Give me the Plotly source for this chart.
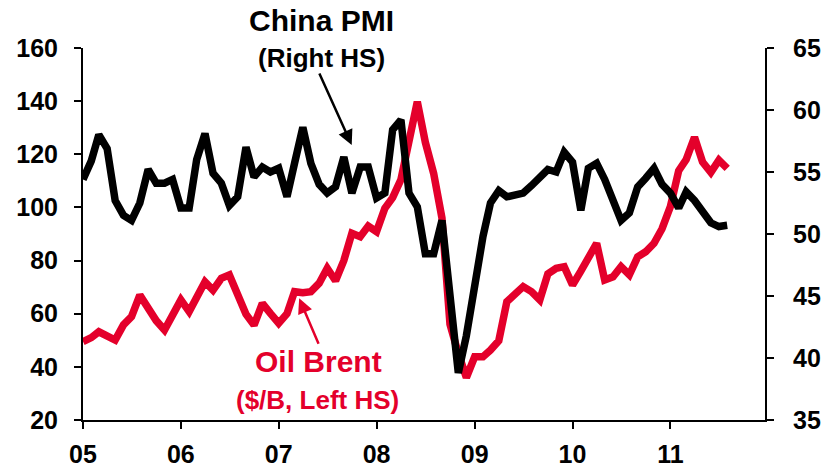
import pandas as pd
import plotly.graph_objects as go

# Monthly series, Jan 2005 - Aug 2011
months = pd.date_range("2005-01-01", periods=80, freq="MS")

china_pmi = [
    54.4, 55.9, 58.0, 56.9, 52.7, 51.5, 51.1, 52.5, 55.2, 54.1, 54.1, 54.4,   # 2005
    52.1, 52.1, 56.0, 58.1, 54.9, 54.1, 52.3, 53.0, 57.0, 54.6, 55.4, 55.0,   # 2006
    55.3, 53.0, 55.7, 58.6, 55.7, 54.0, 53.3, 53.8, 56.2, 53.3, 55.4, 55.4,   # 2007
    52.9, 53.3, 58.4, 59.2, 53.3, 52.2, 48.4, 48.4, 51.1, 44.8, 38.8, 41.8,   # 2008
    46.3, 49.8, 52.5, 53.5, 53.0, 53.1, 53.3, 53.9, 54.5, 55.2, 55.0, 56.6,   # 2009
    55.8, 51.9, 55.3, 55.7, 54.4, 52.7, 51.1, 51.7, 53.8, 54.5, 55.3, 54.0,   # 2010
    53.3, 52.1, 53.4, 52.7, 51.8, 50.9, 50.6, 50.7,                           # 2011
]

oil_brent = [
    49.5, 51.0, 53.2, 51.7, 50.1, 55.8, 58.9, 67.0, 61.4, 57.4, 53.9, 58.9,   # 2005
    65.2, 60.8, 66.5, 72.0, 68.9, 73.3, 74.6, 67.5, 59.8, 55.7, 63.9, 60.1,   # 2006
    56.4, 60.0, 68.3, 67.9, 68.3, 71.5, 77.1, 72.4, 80.0, 90.3, 89.0, 93.0,   # 2007
    90.9, 99.7, 103.7, 110.5, 125.4, 139.8, 124.5, 112.8, 96.0, 56.0, 45.0, 36.0,  # 2008
    43.8, 43.8, 46.3, 49.8, 64.5, 67.7, 70.2, 68.3, 65.2, 75.0, 77.1, 77.7,   # 2009
    70.8, 76.0, 81.2, 86.5, 72.7, 73.9, 77.7, 74.6, 81.4, 83.3, 86.5, 92.0,   # 2010
    100.3, 113.8, 118.0, 126.4, 117.1, 113.2, 117.8, 114.7,                   # 2011
]

year_ticks = pd.date_range("2005-01-01", "2011-01-01", freq="YS")
year_labels = ["05", "06", "07", "08", "09", "10", "11"]

left_ticks = [20, 40, 60, 80, 100, 120, 140, 160]
right_ticks = [35, 40, 45, 50, 55, 60, 65]

RED = "#E4002B"
FONT = "Liberation Sans, Arial, sans-serif"

fig = go.Figure()
fig.add_trace(go.Scatter(
    x=months, y=oil_brent, mode="lines", name="Oil Brent",
    line=dict(color=RED, width=7.5), yaxis="y",
))
fig.add_trace(go.Scatter(
    x=months, y=china_pmi, mode="lines", name="China PMI",
    line=dict(color="black", width=7.5), yaxis="y2",
))

axis_common = dict(
    showline=True, linecolor="black", linewidth=2,
    ticks="outside", ticklen=7, tickwidth=2, tickcolor="black",
    showgrid=False, zeroline=False, automargin=False,
    tickfont=dict(family=FONT, size=25, color="black", weight="bold"),
)

fig.update_layout(
    width=833, height=470,
    margin=dict(l=83, r=68, t=48, b=50),
    paper_bgcolor="white", plot_bgcolor="white",
    showlegend=False,
    font=dict(family=FONT, color="black"),
    xaxis=dict(
        type="date",
        range=["2005-01-01", "2011-12-20"],
        tickvals=year_ticks, ticktext=year_labels,
        ticklabelstandoff=4,
        **axis_common,
    ),
    yaxis=dict(
        range=[20, 160], tickvals=left_ticks,
        ticklabelstandoff=11,
        **axis_common,
    ),
    yaxis2=dict(
        range=[35, 65], tickvals=right_ticks,
        overlaying="y", side="right",
        ticklabelstandoff=14,
        **axis_common,
    ),
)

# Series labels
labels = [
    ("China PMI", 0.349, 1.075, 30, "black"),
    ("(Right HS)", 0.349, 0.972, 26, "black"),
    ("Oil Brent", 0.345, 0.157, 30, RED),
    ("($/B, Left HS)", 0.344, 0.055, 26, RED),
]
for text, xp, yp, size, color in labels:
    fig.add_annotation(
        text=text, x=xp, y=yp, xref="paper", yref="paper",
        xanchor="center", yanchor="middle", showarrow=False,
        font=dict(family=FONT, size=size, color=color, weight="bold"),
    )

# Pointer arrows from labels to their lines
fig.add_annotation(
    text="", x=0.394, y=0.739, xref="paper", yref="paper",
    ax=-33, ay=-73, showarrow=True, arrowhead=2, arrowsize=1.2,
    arrowwidth=2.5, arrowcolor="black", standoff=0,
)
fig.add_annotation(
    text="", x=0.317, y=0.327, xref="paper", yref="paper",
    ax=20, ay=47, showarrow=True, arrowhead=2, arrowsize=1.2,
    arrowwidth=2.5, arrowcolor=RED, standoff=0,
)

fig.write_html("out.html")
